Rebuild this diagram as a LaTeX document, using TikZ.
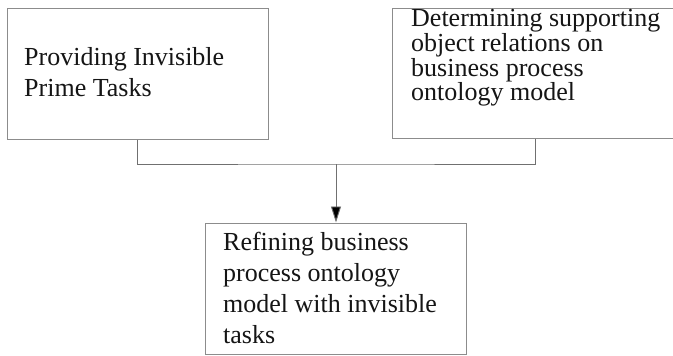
\documentclass[tikz,border=0pt]{standalone}
\usepackage{fontspec}
\setmainfont{Liberation Serif}
\usetikzlibrary{arrows.meta,calc}
\definecolor{framegray}{HTML}{8C8C8C}
\definecolor{linkgray}{HTML}{707070}
\definecolor{inkblack}{HTML}{151515}
\begin{document}
\begin{tikzpicture}[x=1pt,y=-1pt,
  box/.style={draw=framegray, line width=1pt, rectangle, inner sep=0pt, fill=white},
  boxtext/.style={anchor=base west, inner sep=0pt, text=inkblack},
  link/.style={draw=linkgray, line width=0.9pt},
]
\useasboundingbox (0,0) rectangle (673,356);

% process boxes
\node[box, minimum width=261pt, minimum height=131pt] (b1) at (137.5,73.5) {};
\node[box, minimum width=282pt, minimum height=130pt] (b2) at (533,73) {};
\node[box, minimum width=261pt, minimum height=131pt] (b3) at (335.5,288.5) {};

% box captions
\node[boxtext] (t1) at (24,65) {\parbox[t]{240pt}{\raggedright\fontsize{26}{32}\selectfont
  Providing Invisible\\Prime Tasks}};
\node[boxtext] (t2) at (411,27) {\parbox[t]{262pt}{\raggedright\fontsize{26}{22.2}\selectfont
  Determining supporting\\object relations on\\business process\\ontology model}};
\node[boxtext] (t3) at (223,250) {\parbox[t]{240pt}{\raggedright\fontsize{26}{31}\selectfont
  Refining business\\process ontology\\model with invisible\\tasks}};

% merge of the two inputs and the arrow down to the result
\coordinate (join) at (336,164);
\coordinate (b2out) at ($(b2.south west)+(144,0)$);
\draw[link] (b1.south) |- (join) -| (b2out);
\draw[link, -{Triangle[length=16pt,width=10pt,fill=black]}] (join) -- (join |- b3.north);
\end{tikzpicture}
\end{document}
